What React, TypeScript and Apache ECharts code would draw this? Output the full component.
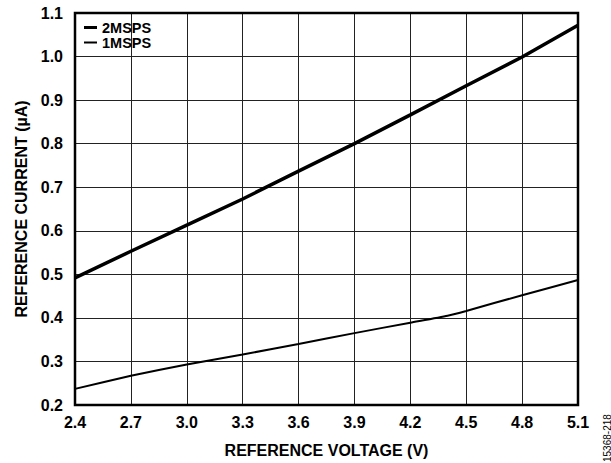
import React, { useEffect, useRef } from "react";
import * as echarts from "echarts";

const voltage = [2.4, 2.7, 3.0, 3.3, 3.6, 3.9, 4.2, 4.5, 4.8, 5.1];
const current2M = [0.492, 0.553, 0.613, 0.673, 0.737, 0.8, 0.866, 0.933, 0.999, 1.072];
const voltage1M = [2.4, 2.7, 3.0, 3.3, 3.6, 3.9, 4.2, 4.4, 4.5, 4.8, 5.1];
const current1M = [0.237, 0.267, 0.293, 0.316, 0.34, 0.365, 0.389, 0.405, 0.416, 0.452, 0.487];
const seriesNames = ["2MSPS", "1MSPS"];

const FONT = "Liberation Sans, Arial, sans-serif";

export default function App() {
  const ref = useRef<HTMLDivElement>(null);
  useEffect(() => {
    if (!ref.current) return;
    const chart = echarts.init(ref.current, undefined, { renderer: "svg" });
    const legendText = { fontFamily: FONT, fontWeight: "bold", fontSize: 14.5, lineHeight: 13, color: "#000" };
    chart.setOption({
      animation: false,
      backgroundColor: "#ffffff",
      grid: { left: 75, right: 33, top: 13, bottom: 58, show: false },
      legend: [
        {
          left: 79,
          top: 15,
          padding: 5,
          icon: "rect",
          itemWidth: 13,
          itemHeight: 3,
          itemGap: 6,
          data: [seriesNames[0]],
          textStyle: legendText,
        },
        {
          left: 79,
          top: 30,
          padding: 5,
          icon: "rect",
          itemWidth: 13,
          itemHeight: 2,
          itemGap: 6,
          data: [seriesNames[1]],
          textStyle: legendText,
        },
      ],
      xAxis: {
        type: "value",
        min: 2.4,
        max: 5.1,
        interval: 0.3,
        axisLine: { show: false },
        axisTick: { show: false },
        splitLine: { show: true, lineStyle: { color: "#222", width: 1 } },
        axisLabel: {
          fontFamily: FONT,
          fontWeight: "bold",
          fontSize: 16,
          color: "#000",
          margin: 9,
          formatter: (v: number) => v.toFixed(1),
        },
        name: "REFERENCE VOLTAGE (V)",
        nameLocation: "middle",
        nameGap: 37,
        nameTextStyle: { fontFamily: FONT, fontWeight: "bold", fontSize: 16, color: "#000" },
      },
      yAxis: {
        type: "value",
        min: 0.2,
        max: 1.1,
        interval: 0.1,
        axisLine: { show: false },
        axisTick: { show: false },
        splitLine: { show: true, lineStyle: { color: "#222", width: 1 } },
        axisLabel: {
          fontFamily: FONT,
          fontWeight: "bold",
          fontSize: 16,
          color: "#000",
          margin: 12,
          formatter: (v: number) => v.toFixed(1),
        },
        name: "REFERENCE CURRENT (µA)",
        nameLocation: "middle",
        nameGap: 44,
        nameTextStyle: { fontFamily: FONT, fontWeight: "bold", fontSize: 16, color: "#000" },
      },
      graphic: [
        {
          type: "rect",
          shape: { x: 75, y: 13, width: 503, height: 392 },
          style: { fill: "none", stroke: "#000", lineWidth: 2.5 },
          z: 10,
        },
        {
          type: "text",
          x: 607,
          y: 462,
          rotation: Math.PI / 2,
          style: {
            text: "15368-218",
            fontFamily: FONT,
            fontSize: 10,
            fill: "#000",
            align: "left",
            verticalAlign: "middle",
          },
        },
      ],
      series: [
        {
          name: seriesNames[0],
          type: "line",
          symbol: "none",
          data: voltage.map((v, i) => [v, current2M[i]]),
          lineStyle: { color: "#000", width: 3.5 },
          itemStyle: { color: "#000" },
        },
        {
          name: seriesNames[1],
          type: "line",
          symbol: "none",
          smooth: 0.2,
          data: voltage1M.map((v, i) => [v, current1M[i]]),
          lineStyle: { color: "#000", width: 2 },
          itemStyle: { color: "#000" },
        },
      ],
    });
    return () => chart.dispose();
  }, []);
  return <div ref={ref} style={{ width: 611, height: 463, position: "absolute", left: 0, top: 0 }} />;
}
